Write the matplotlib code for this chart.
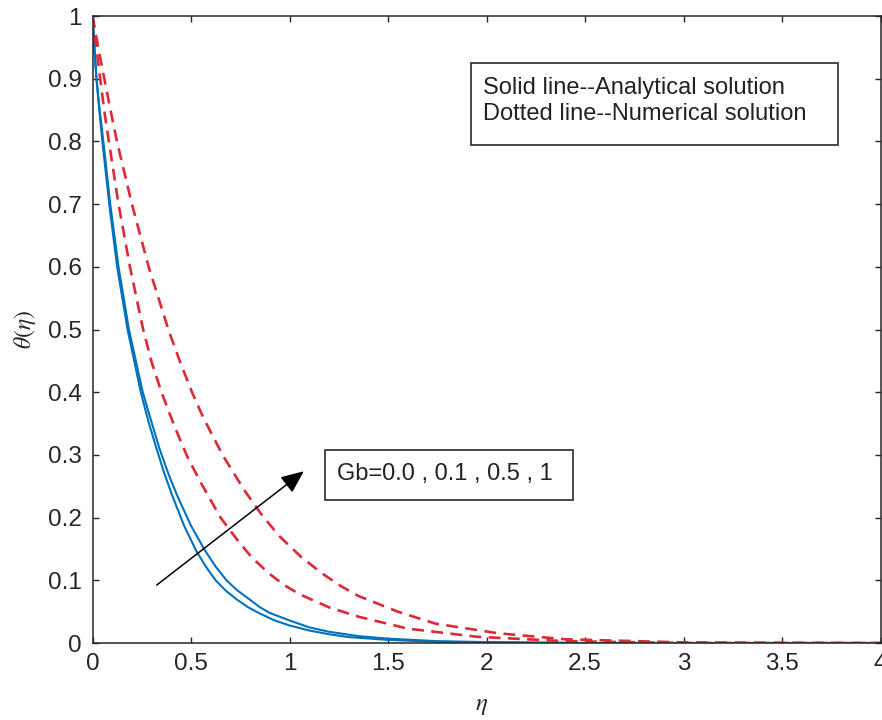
import matplotlib
matplotlib.use('Agg')
import matplotlib.pyplot as plt
from matplotlib.patches import Rectangle

# values
# solid lines (analytical solution)
eta_a1 = [0, 0.01, 0.02, 0.035, 0.05, 0.085, 0.125, 0.178, 0.245, 0.285, 0.325, 0.365, 0.405, 0.465, 0.525,
          0.575, 0.625, 0.675, 0.73, 0.79, 0.85, 0.925, 1.0, 1.1, 1.2, 1.3, 1.5, 1.75, 2.0, 2.5, 4.0]
theta_a1 = [1.0, 0.948, 0.9, 0.848, 0.8, 0.7, 0.6, 0.5, 0.4, 0.352, 0.31, 0.27, 0.235, 0.187, 0.148,
            0.122, 0.1, 0.084, 0.07, 0.057, 0.047, 0.036, 0.028, 0.02, 0.014, 0.0095, 0.005, 0.002, 0.001, 0.0, 0.0]
eta_a2 = [0, 0.01, 0.02, 0.037, 0.055, 0.09, 0.132, 0.185, 0.255, 0.3, 0.34, 0.385, 0.43, 0.5, 0.57,
          0.625, 0.68, 0.735, 0.795, 0.85, 0.9, 0.95, 1.0, 1.1, 1.2, 1.35, 1.5, 1.75, 2.0, 2.5, 4.0]
theta_a2 = [1.0, 0.948, 0.9, 0.848, 0.8, 0.7, 0.6, 0.5, 0.4, 0.352, 0.31, 0.27, 0.235, 0.187, 0.148,
            0.122, 0.1, 0.084, 0.07, 0.057, 0.048, 0.042, 0.036, 0.025, 0.018, 0.011, 0.007, 0.003, 0.0015, 0.0, 0.0]

# dashed lines (numerical solution)
eta_n1 = [0, 0.02, 0.039, 0.06, 0.083, 0.132, 0.19, 0.257, 0.3, 0.35, 0.417, 0.48, 0.551, 0.65, 0.736,
          0.81, 0.896, 0.97, 1.05, 1.2, 1.35, 1.6, 1.95, 2.4, 3.0, 4.0]
theta_n1 = [1.0, 0.948, 0.9, 0.848, 0.8, 0.7, 0.6, 0.5, 0.448, 0.4, 0.345, 0.298, 0.255, 0.2, 0.164,
            0.136, 0.111, 0.093, 0.078, 0.057, 0.042, 0.023, 0.01, 0.003, 0.0, 0.0]
eta_n2 = [0, 0.03, 0.06, 0.09, 0.124, 0.2, 0.285, 0.385, 0.445, 0.505, 0.56, 0.66, 0.77, 0.86, 0.95,
          1.06, 1.17, 1.26, 1.35, 1.55, 1.74, 2.06, 2.4, 3.0, 4.0]
theta_n2 = [1.0, 0.948, 0.9, 0.852, 0.8, 0.7, 0.6, 0.5, 0.448, 0.4, 0.361, 0.3, 0.244, 0.204, 0.17,
            0.137, 0.11, 0.091, 0.075, 0.05, 0.031, 0.0155, 0.006, 0.001, 0.0]

xticks = [0, 0.5, 1, 1.5, 2, 2.5, 3, 3.5, 4]
yticks = [0, 0.1, 0.2, 0.3, 0.4, 0.5, 0.6, 0.7, 0.8, 0.9, 1]

note1 = 'Solid line--Analytical solution'
note2 = 'Dotted line--Numerical solution'
gb_text = 'Gb=0.0 , 0.1 , 0.5 , 1'

plt.rcParams['font.family'] = ['Liberation Sans', 'DejaVu Sans']
plt.rcParams['mathtext.fontset'] = 'stix'

blue = '#0072BD'
red = '#DC2A36'
gray = '#262626'

fig = plt.figure(figsize=(8.82, 7.2), dpi=100)
ax = fig.add_axes([0.1049, 0.1069, 0.8934, 0.8708])

ax.plot(eta_a1, theta_a1, '-', color=blue, lw=1.5)
ax.plot(eta_a2, theta_a2, '-', color=blue, lw=1.5)
ax.plot(eta_n1, theta_n1, '--', color=red, lw=1.9, dashes=(4.5, 2.8))
ax.plot(eta_n2, theta_n2, '--', color=red, lw=1.9, dashes=(4.5, 2.8))

ax.set_xlim(0, 4)
ax.set_ylim(0, 1)
ax.set_xticks(xticks)
ax.set_yticks(yticks)
ax.set_xticklabels(['%g' % v for v in xticks])
ax.set_yticklabels(['%g' % v for v in yticks])
ax.tick_params(direction='in', length=4.5, width=1.0, top=True, right=True,
               labelsize=17.5, colors=gray, pad=7.5)
for s in ax.spines.values():
    s.set_color(gray)
    s.set_linewidth(1.1)

ax.set_xlabel(r'$\eta$', fontsize=18, va='center', color=gray)
ax.xaxis.set_label_coords(0.494, -0.099)
ax.set_ylabel(r'$\theta(\eta)$', fontsize=17, va='center', color=gray)
ax.yaxis.set_label_coords(-0.086, 0.5)

# text boxes
ax.add_patch(Rectangle((0.480, 0.794), 0.466, 0.131, transform=ax.transAxes,
                       facecolor='white', edgecolor='#3a3a3a', lw=1.3, zorder=5))
ax.text(0.4955, 0.8850, note1, transform=ax.transAxes, fontsize=17,
        va='center', ha='left', color='#222222', zorder=6)
ax.text(0.4955, 0.8440, note2, transform=ax.transAxes, fontsize=17,
        va='center', ha='left', color='#222222', zorder=6)

ax.add_patch(Rectangle((0.295, 0.2281), 0.3148, 0.0797, transform=ax.transAxes,
                       facecolor='white', edgecolor='#3a3a3a', lw=1.3, zorder=5))
ax.text(0.3103, 0.2695, gb_text, transform=ax.transAxes, fontsize=17,
        va='center', ha='left', color='#222222', zorder=6)

# arrow
ax.annotate('', xy=(1.073, 0.274), xytext=(0.326, 0.0925),
            arrowprops=dict(arrowstyle='-|>,head_length=0.7,head_width=0.3',
                            mutation_scale=20, lw=1.1, color='black',
                            shrinkA=0, shrinkB=0))

fig.savefig('out.png', dpi=100)
